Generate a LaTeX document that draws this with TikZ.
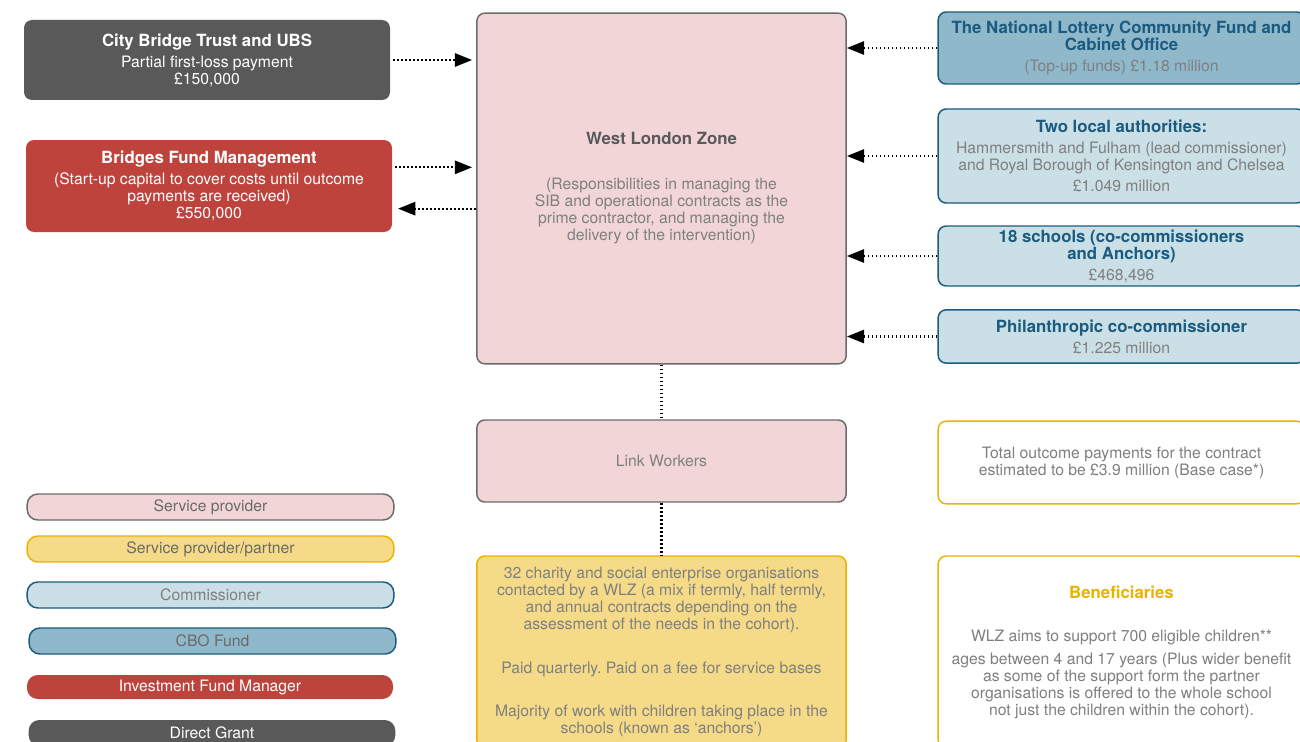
\documentclass[tikz,border=0pt]{standalone}
\usepackage{fontspec}
\setmainfont{TeX Gyre Heros}
\usetikzlibrary{arrows.meta}

\definecolor{grantgrey}{HTML}{595959}
\definecolor{fundred}{HTML}{BE433D}
\definecolor{provpink}{HTML}{F2D6D7}
\definecolor{provline}{HTML}{6B6B6B}
\definecolor{partyellow}{HTML}{F5DB88}
\definecolor{partline}{HTML}{E9B300}
\definecolor{commblue}{HTML}{CADFE6}
\definecolor{cboblue}{HTML}{8FB8CB}
\definecolor{commline}{HTML}{1B5B80}
\definecolor{txtgrey}{HTML}{7F7F7F}

\newcommand\bodyfont{\fontsize{11.8}{12.75}\selectfont}
\newcommand\headfont{\fontsize{12.6}{12.2}\selectfont\bfseries}
\newcommand\commhead[1]{{\headfont\color{commline}#1}}

\begin{document}
\begin{tikzpicture}[
  x=0.75pt, y=-0.75pt,
  every node/.style={align=center,rounded corners=6pt,inner sep=2pt,font=\bodyfont,text=txtgrey,line width=1.1pt},
  grant/.style={fill=grantgrey,text=white},
  invest/.style={fill=fundred,text=white},
  provider/.style={fill=provpink,draw=provline},
  partner/.style={fill=partyellow,draw=partline},
  outcome/.style={fill=white,draw=partline},
  commish/.style={fill=commblue,draw=commline},
  cbo/.style={fill=cboblue,draw=commline},
  legend/.style={rounded corners=8pt,minimum width=275pt,minimum height=19.5pt,inner sep=0pt},
  flow/.style={line width=1.6pt,dash pattern=on 1.4pt off 1.6pt,-{Triangle[length=13pt,width=10pt]}},
  link/.style={line width=1.6pt,dash pattern=on 1.4pt off 1.6pt}
]
\useasboundingbox (0,0) rectangle (1300,742);

% funders on the left
\node[grant,minimum width=274.5pt,minimum height=60pt] (cbt) at (207,60)
  {\headfont City Bridge Trust and UBS\\[3pt] \bodyfont Partial first-loss payment\\ £150,000};
\node[invest,minimum width=274.5pt,minimum height=69pt] (bfm) at (209,186)
  {\headfont Bridges Fund Management\\[3pt] \bodyfont (Start-up capital to cover costs until outcome\\ payments are received)\\ £550,000};

% provider column
\node[provider,minimum width=277pt,minimum height=263pt] (wlz) at (661.5,188.5)
  {{\headfont\color{grantgrey}West London Zone}\\[21pt]
   (Responsibilities in managing the\\ SIB and operational contracts as the\\ prime contractor, and managing the\\ delivery of the intervention)};
\node[provider,minimum width=277pt,minimum height=61.5pt] (lw) at (661.5,461) {Link Workers};
\node[partner,minimum width=277pt,minimum height=144pt] (orgs) at (661.5,652)
  {32 charity and social enterprise organisations\\ contacted by a WLZ (a mix if termly, half termly,\\ and annual contracts depending on the\\ assessment of the needs in the cohort).\\[20pt]
   Paid quarterly.\ Paid on a fee for service bases\\[20pt]
   Majority of work with children taking place in the\\ schools (known as ‘anchors’)};

% commissioners on the right
\node[cbo,minimum width=275pt,minimum height=54pt] (nlcf) at (1121.5,48)
  {\commhead{The National Lottery Community Fund and}\\ \commhead{Cabinet Office}\\[3pt] (Top-up funds) £1.18 million};
\node[commish,minimum width=275pt,minimum height=70.5pt] (la) at (1121.5,156)
  {\commhead{Two local authorities:}\\[3pt] Hammersmith and Fulham (lead commissioner)\\ and Royal Borough of Kensington and Chelsea\\[3pt] £1.049 million};
\node[commish,minimum width=275pt,minimum height=45pt] (schools) at (1121.5,256)
  {\commhead{18 schools (co-commissioners}\\ \commhead{and Anchors)}\\[3pt] £468,496};
\node[commish,minimum width=275pt,minimum height=40pt] (phil) at (1121.5,336.5)
  {\commhead{Philanthropic co-commissioner}\\[3pt] £1.225 million};
\node[outcome,minimum width=275pt,minimum height=62pt] (total) at (1121.5,462.5)
  {Total outcome payments for the contract\\ estimated to be £3.9 million (Base case*)};
\node[outcome,minimum width=275pt,minimum height=144pt] (benef) at (1121.5,652)
  {{\headfont\color{partline}Beneficiaries}\\[20pt]
   WLZ aims to support 700 eligible children**\\[4pt]
   ages between 4 and 17 years (Plus wider benefit\\ as some of the support form the partner\\ organisations is offered to the whole school\\ not just the children within the cohort).};

% legend
\node[legend,provider] (lgprov) at (210.5,507) {\color{grantgrey!90}Service provider};
\node[legend,partner] (lgpart) at (210.5,549) {\color{grantgrey!90}Service provider/partner};
\node[legend,commish] (lgcomm) at (210.5,595) {Commissioner};
\node[legend,cbo] (lgcbo) at (212.5,641) {\color{grantgrey!90}CBO Fund};
\node[legend,invest,minimum width=274.5pt,minimum height=18pt] (lginv) at (210,687) {Investment Fund Manager};
\node[legend,grant] (lggrant) at (212,733) {Direct Grant};

% connectors
\draw[flow,shorten <=2pt,shorten >=3pt] (cbt.east) -- (cbt.east -| wlz.west);
\draw[flow,shorten <=2pt,shorten >=3pt] ([yshift=14pt]bfm.east) -- ([yshift=14pt]bfm.east -| wlz.west);
\draw[flow,shorten >=4pt] ([yshift=-17pt]bfm.east -| wlz.west) -- ([yshift=-17pt]bfm.east);
\draw[flow] (nlcf.west) -- (nlcf.west -| wlz.east);
\draw[flow] (la.west) -- (la.west -| wlz.east);
\draw[flow] (schools.west) -- (schools.west -| wlz.east);
\draw[flow] (phil.west) -- (phil.west -| wlz.east);
\draw[link] (wlz.south) -- (lw.north);
\draw[link] (lw.south) -- (orgs.north);
\end{tikzpicture}
\end{document}
